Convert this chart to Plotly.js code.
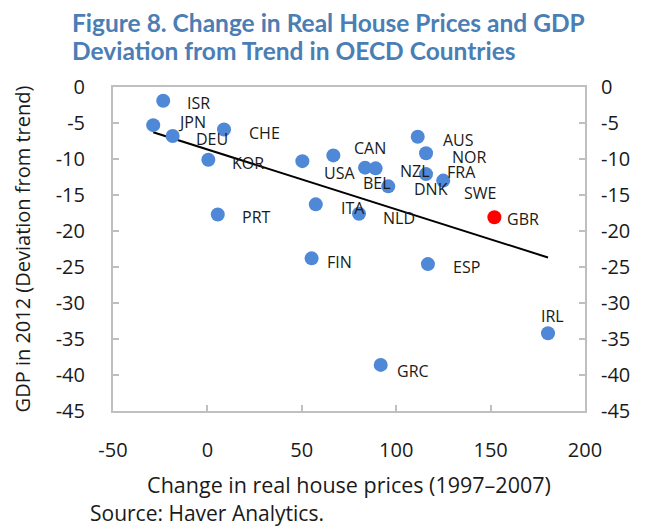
<!DOCTYPE html>
<html>
<head>
<meta charset="utf-8">
<script src="https://cdn.plot.ly/plotly-3.0.1.min.js"></script>
<style>
  html, body { margin: 0; padding: 0; background: #ffffff; }
  #chart { width: 645px; height: 527px; }
</style>
</head>
<body>
<div id="chart"></div>
<script>
// ---- data ----
const countries = ["ISR","JPN","DEU","CHE","KOR","PRT","USA","CAN","ITA","BEL","NZL","DNK","AUS","NOR","FRA","SWE","NLD","FIN","ESP","GRC","IRL","GBR"];
const housePriceChange = [-23.4,-28.7,-18.4,8.8,0.5,5.5,50.3,66.7,57.4,83.5,89.1,95.8,111.4,115.8,115.8,124.9,80.3,55.2,116.8,91.8,180.4,152.0];
const gdpDeviation = [-1.9,-5.3,-6.8,-5.9,-10.1,-17.7,-10.3,-9.5,-16.3,-11.2,-11.3,-13.8,-6.9,-9.2,-12.1,-13.0,-17.6,-23.8,-24.6,-38.6,-34.2,-18.1];
const highlighted = ["GBR"];
const xTicks = [-50, 0, 50, 100, 150, 200];
const yTicks = [0, -5, -10, -15, -20, -25, -30, -35, -40, -45];
const titleLines = ["Figure 8. Change in Real House Prices and GDP", "Deviation from Trend in OECD Countries"];

// ---- label placement (pixel offsets of label centre from its point) ----
const labelDx = [35,39,39,40,40,39,37,37,37,12,39,43,41,43,35,37,40,28,39,32,4,29];
const labelDy = [2,-3,3,4,3,3,12,-7,4,15,3,3,3,4,-2,12,4,4,3,6,-17,2];

// ---- styles ----
const BLUE = "#4F88D6";
const RED = "#FF0000";
const AXIS_GREY = "#BFBFBF";
const TITLE_BLUE = "#4A7EB4";
const TXT = "#1a1a1a";
const FONT = "Open Sans";

// Linear trend line (least squares fit of the data, spanning the data range)
const n = housePriceChange.length;
const mx = housePriceChange.reduce((a,b)=>a+b,0)/n;
const my = gdpDeviation.reduce((a,b)=>a+b,0)/n;
let sxy = 0, sxx = 0;
for (let i=0;i<n;i++){ sxy += (housePriceChange[i]-mx)*(gdpDeviation[i]-my); sxx += (housePriceChange[i]-mx)**2; }
const slope = sxy/sxx, intercept = my - slope*mx;
const xmin = Math.min(...housePriceChange), xmax = Math.max(...housePriceChange);
const trendX = [xmin, xmax];
const trendY = trendX.map(v => intercept + slope*v);

const colors = countries.map(c => highlighted.includes(c) ? RED : BLUE);

const traces = [
  { x: trendX, y: trendY, mode: "lines", type: "scatter",
    line: { color: "#000000", width: 2 }, hoverinfo: "skip", showlegend: false },
  { x: housePriceChange, y: gdpDeviation, mode: "markers", type: "scatter",
    marker: { size: 14, color: colors, line: { width: 0 } },
    text: countries, hoverinfo: "text", showlegend: false },
  { x: housePriceChange, y: gdpDeviation, yaxis: "y2", mode: "markers", type: "scatter",
    marker: { opacity: 0 }, hoverinfo: "skip", showlegend: false }
];

const annotations = countries.map((c,i) => ({
  x: housePriceChange[i], y: gdpDeviation[i], xref: "x", yref: "y",
  text: c, showarrow: false, xanchor: "center", yanchor: "middle",
  xshift: labelDx[i], yshift: -labelDy[i],
  font: { family: FONT, size: 16, color: TXT }
}));
// title lines (placed in paper coordinates relative to the plot box)
const titleY = [1.2006, 1.114];
titleLines.forEach((t,i) => annotations.push({
  xref: "paper", yref: "paper", x: -0.0911, y: titleY[i], xanchor: "left", yanchor: "middle",
  text: "<b>" + t + "</b>", showarrow: false,
  font: { family: "Lato", size: 24.5, color: TITLE_BLUE }
}));
annotations.push({
  xref: "paper", yref: "paper", x: -0.052, y: -0.314, xanchor: "left", yanchor: "middle",
  text: "Source: Haver Analytics.", showarrow: false,
  font: { family: FONT, size: 21, color: TXT }
});

const yCommon = {
  range: [-45, 0], tickvals: yTicks, ticktext: yTicks.map(String),
  ticks: "inside", ticklen: 6, tickwidth: 2, tickcolor: AXIS_GREY,
  showline: true, linecolor: AXIS_GREY, linewidth: 2,
  showgrid: false, zeroline: false,
  tickfont: { family: FONT, size: 20, color: TXT }
};

const layout = {
  width: 645, height: 527,
  margin: { l: 113, r: 60, t: 87, b: 116 },
  paper_bgcolor: "#ffffff", plot_bgcolor: "#ffffff",
  showlegend: false, hovermode: false,
  xaxis: {
    range: [-50, 200], tickvals: xTicks, ticktext: xTicks.map(String),
    ticks: "inside", ticklen: 6, tickwidth: 2, tickcolor: AXIS_GREY,
    showline: true, mirror: true, linecolor: AXIS_GREY, linewidth: 2,
    showgrid: false, zeroline: false,
    tickfont: { family: FONT, size: 20, color: TXT },
    ticklabelstandoff: 20,
    title: { text: "Change in real house prices (1997\u20132007)", standoff: 16,
             font: { family: FONT, size: 21.5, color: TXT } }
  },
  yaxis: Object.assign({}, yCommon, {
    side: "left", mirror: true, ticklabelstandoff: 22,
    title: { text: "GDP in 2012 (Deviation from trend)", standoff: 20,
             font: { family: FONT, size: 20, color: TXT } }
  }),
  yaxis2: Object.assign({}, yCommon, {
    overlaying: "y", side: "right", matches: "y", ticklabelstandoff: 10
  }),
  annotations: annotations
};

Plotly.newPlot("chart", traces, layout, { displayModeBar: false, staticPlot: true });
</script>
</body>
</html>
